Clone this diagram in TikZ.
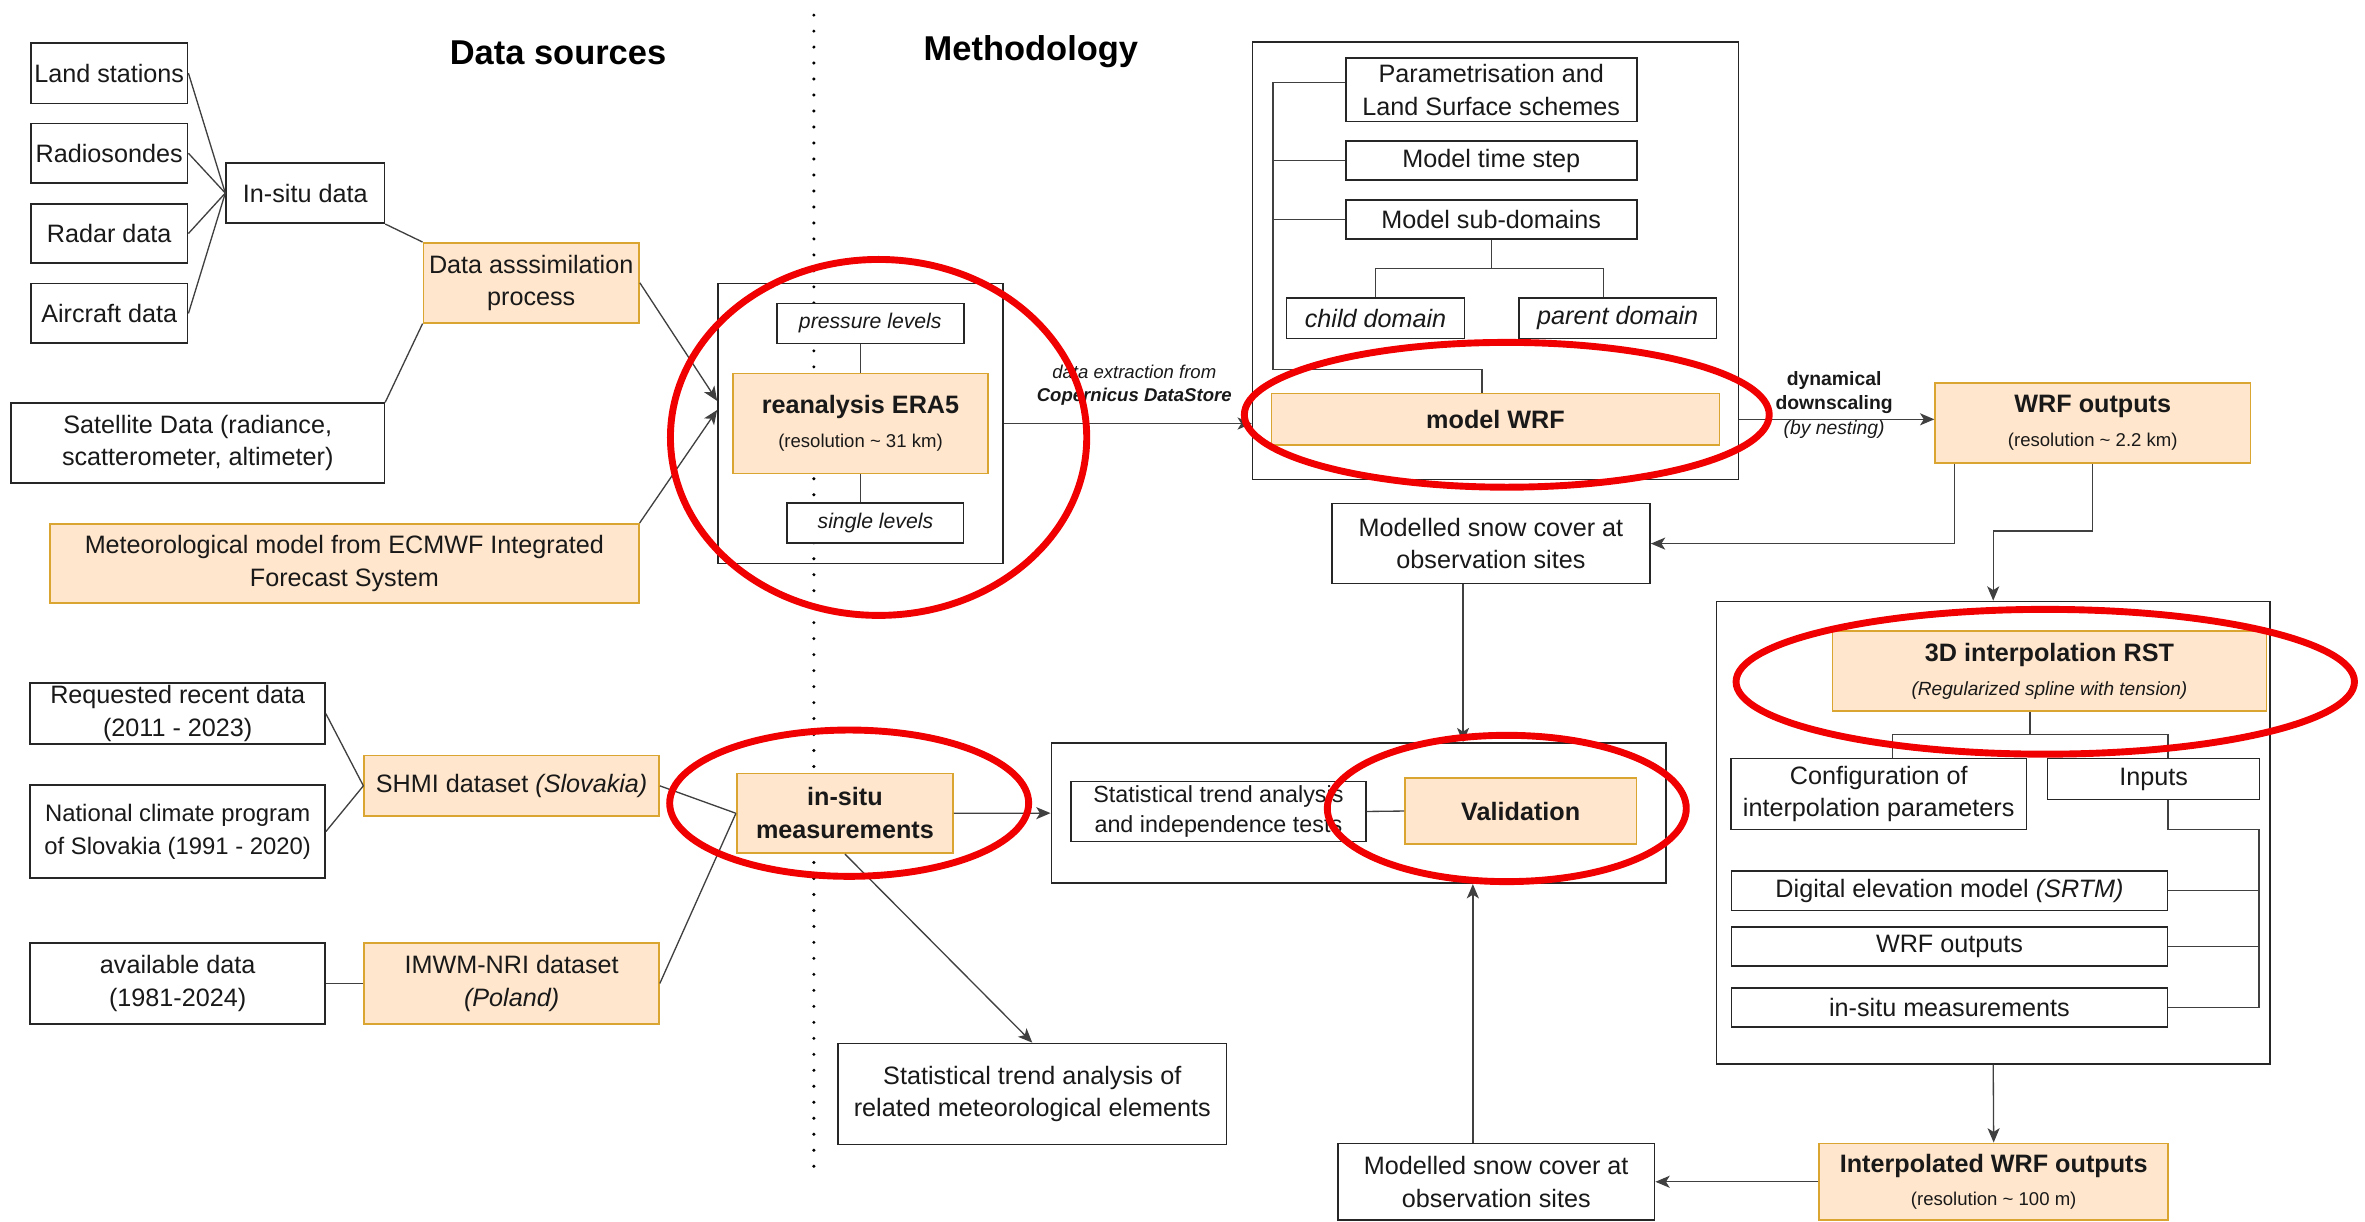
\documentclass[tikz,border=0pt]{standalone}
\usepackage{fontspec}
\setmainfont{Liberation Sans}
\usetikzlibrary{positioning, arrows.meta, calc}
\definecolor{hfill}{HTML}{FFE6CC}
\definecolor{hdraw}{HTML}{DBA532}
\definecolor{ringred}{HTML}{F00000}

\begin{document}
\begin{tikzpicture}[x=0.2mm, y=-0.2mm,
  box/.style={rectangle, draw=black!85, line width=0.6pt, fill=white, align=center, inner sep=0.5pt, text=black!90, font=\fontsize{9.5}{12.3}\selectfont},
  hbox/.style={box, fill=hfill, draw=hdraw},
  outer/.style={rectangle, draw=black!85, line width=0.6pt, inner sep=0pt},
  sz/.style 2 args={minimum width=#1mm, minimum height=#2mm},
  link/.style={draw=black!75, line width=0.5pt},
  arr/.style={link, -{Stealth[length=1.9mm, width=1.6mm, inset=0.5mm]}},
  title/.style={font=\fontsize{13}{15}\selectfont\bfseries},
  note/.style={align=center, inner sep=0pt, text=black!90, font=\fontsize{7}{8.5}\selectfont},
  ring/.style={draw=ringred, line width=2.6pt},
  dotsep/.style={line width=0.45mm, line cap=round, dash pattern=on 0pt off 2.12mm}]

\useasboundingbox (0,0) rectangle (1568,810);

% Titles and separator
\node[title] (tsrc) at (370,35) {Data sources};
\node[title] (tmeth) at (683.5,34) {Methodology};
\draw[dotsep] (539.6,10) -- (539.6,783);

% Data sources (upper)
\node[box, sz={20.8}{8}] (land) at (72.4,48.5) {Land stations};
\node[box, sz={20.8}{7.9}] (radio) at (72.4,101.6) {Radiosondes};
\node[box, sz={20.8}{7.9}] (radar) at (72.4,154.8) {Radar data};
\node[box, sz={20.8}{7.9}] (aircraft) at (72.4,207.8) {Aircraft data};
\node[box, sz={21}{8}] (insitu) at (202.4,128) {In-situ data};
\node[hbox, sz={28.6}{10.6}] (assim) at (352.2,187.5) {Data asssimilation\\process};
\node[box, sz={49.5}{10.6}] (sat) at (131.1,293.8) {Satellite Data (radiance,\\scatterometer, altimeter)};
\node[hbox, sz={78.1}{10.5}] (ecmwf) at (228.3,373.5) {Meteorological model from ECMWF Integrated\\Forecast System};

% Data sources (lower)
\node[box, sz={39.1}{8.1}] (req) at (117.8,473.2) {Requested recent data\\(2011 - 2023)};
\node[box, sz={39.1}{12.3}, font=\fontsize{9}{12.3}\selectfont] (nat) at (117.8,551.3) {National climate program\\of Slovakia (1991 - 2020)};
\node[box, sz={39.1}{10.8}] (avail) at (117.8,652) {available data\\(1981-2024)};
\node[hbox, sz={39.1}{8}] (shmi) at (339.2,521) {SHMI dataset \textit{(Slovakia)}};
\node[hbox, sz={39.1}{10.8}] (imwm) at (339.2,652) {IMWM-NRI dataset\\\textit{(Poland)}};
\node[hbox, sz={28.7}{10.6}] (inmeas) at (560.2,539.2) {\textbf{in-situ}\\\textbf{measurements}};

% Reanalysis
\node[outer, sz={37.8}{37.1}] (erabox) at (570.5,280.8) {};
\node[box, sz={24.8}{5.3}, font=\fontsize{8}{9.6}\selectfont\itshape] (plev) at (577,214.4) {pressure levels};
\node[hbox, sz={33.8}{13.3}] (era) at (570.5,280.8) {\textbf{reanalysis ERA5}\\[0.5pt]{\fontsize{7}{8.4}\selectfont (resolution \textasciitilde{} 31 km)}};
\node[box, sz={23.4}{5.3}, font=\fontsize{8}{9.6}\selectfont\itshape] (slev) at (580.4,346.8) {single levels};
\node[note] (dext) at (752,255.5) {\textit{data extraction from}\\\textbf{\textit{Copernicus DataStore}}};

% WRF model
\node[outer, sz={64.4}{58}] (wrfbox) at (991.5,173) {};
\node[box, sz={38.6}{8.4}] (param) at (988.7,59.5) {Parametrisation and\\Land Surface schemes};
\node[box, sz={38.6}{5.2}] (tstep) at (988.7,106.5) {Model time step};
\node[box, sz={38.6}{5.2}] (subdom) at (988.7,145.5) {Model sub-domains};
\node[box, sz={23.6}{5.4}, font=\fontsize{9.5}{12.3}\selectfont\itshape] (child) at (912,211) {child domain};
\node[box, sz={26.2}{5.4}, font=\fontsize{9.5}{12.3}\selectfont\itshape] (parent) at (1072.5,211) {parent domain};
\node[hbox, sz={59.4}{6.8}] (wrf) at (991.5,278) {\textbf{model WRF}};
\node[note, font=\fontsize{7.3}{9.4}\selectfont] (dyn) at (1216,268.5) {\textbf{dynamical}\\\textbf{downscaling}\\\textit{(by nesting)}};
\node[hbox, sz={41.8}{10.6}] (wrfout) at (1387.5,280.5) {\textbf{WRF outputs}\\[0.5pt]{\fontsize{7}{8.4}\selectfont (resolution \textasciitilde{} 2.2 km)}};
\node[box, sz={42.2}{10.6}] (upmod) at (988.5,360.4) {Modelled snow cover at\\observation sites};

% Interpolation
\node[outer, sz={73.4}{61.3}] (box3d) at (1321.5,552) {};
\node[hbox, sz={57.5}{10.6}] (rst) at (1358.8,445) {\textbf{3D interpolation RST}\\[0.5pt]{\fontsize{7.2}{8.4}\selectfont\itshape (Regularized spline with tension)}};
\node[box, sz={39.2}{9.4}] (config) at (1245.6,526.4) {Configuration of\\interpolation parameters};
\node[box, sz={28.1}{5.4}] (inputs) at (1427.8,516.5) {Inputs};
\node[box, sz={57.8}{5.2}] (dem) at (1292.5,590.6) {Digital elevation model \textit{(SRTM)}};
\node[box, sz={57.8}{5.2}] (wrfin) at (1292.5,627.5) {WRF outputs};
\node[box, sz={57.8}{5.2}] (obsin) at (1292.5,668) {in-situ measurements};
\node[hbox, sz={46.3}{10.2}] (interp) at (1321.8,783.5) {\textbf{Interpolated WRF outputs}\\[0.5pt]{\fontsize{7}{8.4}\selectfont (resolution \textasciitilde{} 100 m)}};
\node[box, sz={42}{10.2}] (lowmod) at (992,783.5) {Modelled snow cover at\\observation sites};

% Validation
\node[outer, sz={81.5}{18.6}] (valbox) at (900.8,539.1) {};
\node[box, sz={39.1}{8}, font=\fontsize{8.8}{11.5}\selectfont] (statind) at (807.8,538) {Statistical trend analysis\\and independence tests};
\node[hbox, sz={30.7}{8.8}] (valid) at (1008.2,537.7) {\textbf{Validation}};
\node[box, sz={51.5}{13.4}] (relstat) at (684.4,725.3) {Statistical trend analysis of\\related meteorological elements};

% Connectors, data sources
\foreach \src in {land, radio, radar, aircraft}
  \draw[link] (\src.east) -- (insitu.west);
\draw[link] (insitu.south east) -- (assim.north west);
\draw[link] (sat.north east) -- (assim.south west);
\draw[arr] (assim.east) -- ([yshift=3mm]erabox.west);
\draw[arr] (ecmwf.north east) -- ([yshift=1.8mm]erabox.west);
\draw[link] (req.east) -- (shmi.west);
\draw[link] (nat.east) -- (shmi.west);
\draw[link] (avail.east) -- (imwm.west);
\draw[link] (shmi.east) -- (inmeas.west);
\draw[link] (imwm.east) -- (inmeas.west);

% Connectors, reanalysis and WRF
\draw[link] (era.north) -- (era.north |- plev.south);
\draw[link] (era.south) -- (era.south |- slev.north);
\draw[arr] (erabox.east) -- (wrfbox.west |- erabox.east);
\coordinate (busb) at (844,245);
\draw[link] ([yshift=1mm]param.west) -- ([yshift=1mm]param.west -| busb) -- (busb) -- ([xshift=-1.8mm]wrf.north |- busb) -- ([xshift=-1.8mm]wrf.north);
\draw[link] (tstep.west) -- (tstep.west -| busb);
\draw[link] (subdom.west) -- (subdom.west -| busb);
\draw[link] (subdom.south) -- (subdom.south |- 0,178) -| (child.north);
\draw[link] (subdom.south |- 0,178) -| ([xshift=-1.9mm]parent.north);
\draw[arr] (wrfbox.east |- wrf.east) -- (wrfout.west |- wrf.east);
\draw[arr] ([xshift=-18.3mm]wrfout.south) |- (upmod.east);
\coordinate (split) at (1321.5,352);
\draw[arr] (wrfout.south) |- (split) -- (box3d.north);
\draw[arr] ([xshift=-3.7mm]upmod.south) -- ([xshift=-3.7mm]upmod.south |- valbox.north);

% Connectors, interpolation and validation
\draw[link] ([xshift=-2.6mm]rst.south) -- ([xshift=-2.6mm]rst.south |- 0,487);
\draw[link] ([xshift=1.8mm]config.north) |- ([xshift=1.9mm]inputs.north |- 0,487) -- ([xshift=1.9mm]inputs.north);
\coordinate (ibus) at (1497.6,549.8);
\draw[link] ([xshift=1.9mm]inputs.south) |- (ibus) -- (ibus |- obsin.east);
\foreach \inp in {dem, wrfin, obsin}
  \draw[link] (\inp.east) -- (\inp.east -| ibus);
\draw[arr] (box3d.south) -- (interp.north);
\draw[arr] (interp.west) -- (lowmod.east);
\draw[arr] ([xshift=-3.1mm]lowmod.north) -- ([xshift=-3.1mm]lowmod.north |- valbox.south);
\draw[link] (statind.east) -- (valid.west);
\draw[arr] (inmeas.east) -- (valbox.west);
\draw[arr] (inmeas.south) -- (relstat.north);

% Highlight rings
\draw[ring] (582.5,290) ellipse [x radius=27.6mm, y radius=23.6mm];
\draw[ring] (999,275) ellipse [x radius=34.8mm, y radius=9.6mm];
\draw[ring] (1356,452) ellipse [x radius=41mm, y radius=9.6mm];
\draw[ring] (563,532.5) ellipse [x radius=23.8mm, y radius=9.7mm];
\draw[ring] (999,536) ellipse [x radius=23.8mm, y radius=9.7mm];

\end{tikzpicture}
\end{document}
